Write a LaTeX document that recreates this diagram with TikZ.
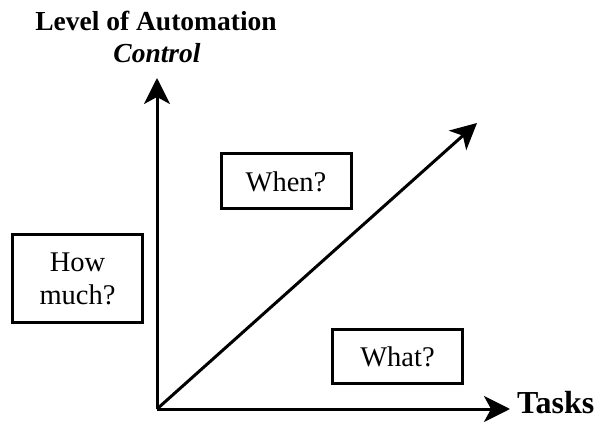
\documentclass[tikz,border=0pt]{standalone}
\usepackage{fontspec}
\setmainfont{Liberation Serif}
\usetikzlibrary{arrows.meta,positioning}
\tikzset{axisline/.style={line width=3pt,-{Stealth[length=26pt,width=26pt,inset=7pt]}},
  qbox/.style={draw,line width=3pt,minimum height=53pt,minimum width=130pt,align=center,font=\fontsize{28.5}{33}\selectfont},
  axislabel/.style={font=\bfseries\fontsize{27.5}{30}\selectfont,inner sep=0pt}}

\begin{document}
\begin{tikzpicture}[x=1pt,y=1pt]
\useasboundingbox (0,0) rectangle (603,429);
\coordinate (o) at (157,20);
\coordinate (ytip) at (157,351);
\coordinate (xtip) at (510,20);
\coordinate (dtip) at (477,306);
% axes and the diagonal
\draw[axisline] (o)--(ytip);
\draw[axisline] (o)--(xtip);
\draw[axisline] (o)--(dtip);
% labels
\node[axislabel,anchor=base] (level) at (156,398) {Level of Automation};
\node[axislabel,anchor=base,font=\bfseries\itshape\fontsize{27.5}{30}\selectfont] (control) at (157,366) {Control};
\node[axislabel,anchor=base west,font=\bfseries\fontsize{32}{30}\selectfont] (tasks) at (517,16) {Tasks};
% question boxes
\node[qbox,minimum height=88pt] (howmuch) at (77.5,150.5) {How\\much?};
\node[qbox,minimum height=55pt] (when) at (286,247.5) {When?};
\node[qbox] (what) at (397.5,72.5) {What?};
\end{tikzpicture}
\end{document}
